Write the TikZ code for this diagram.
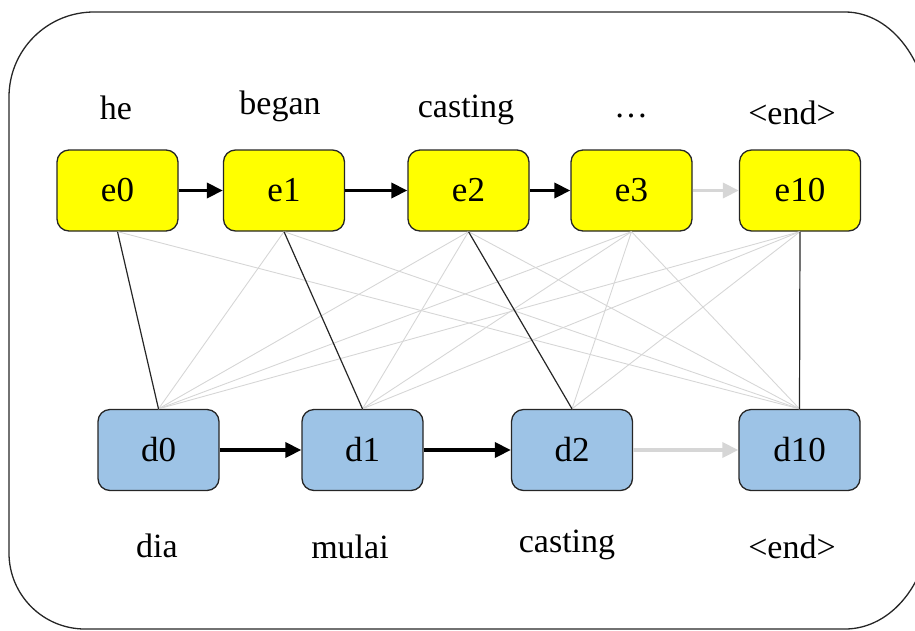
\documentclass[tikz,border=0pt]{standalone}
\usepackage{fontspec}
\setmainfont{Liberation Serif}
\usetikzlibrary{arrows.meta}
\definecolor{encfill}{RGB}{255,255,0}
\definecolor{decfill}{RGB}{157,195,230}
\definecolor{softgrey}{RGB}{214,214,214}
\tikzset{
  wordbox/.style={draw=black!85, line width=1.3pt, rounded corners=12pt,
    minimum width=121pt, minimum height=81pt, inner sep=0pt,
    font=\fontsize{35}{40}\selectfont},
  encbox/.style={wordbox, fill=encfill},
  decbox/.style={wordbox, fill=decfill},
  word/.style={font=\fontsize{34}{40}\selectfont, inner sep=0pt},
  seqarrow/.style={draw=black, line width=3.6pt,
    -{Triangle[length=16pt,width=15pt]}},
  seqarrowsoft/.style={seqarrow, draw=softgrey, fill=softgrey},
  linkhard/.style={line width=1.2pt, draw=black!85},
  linksoft/.style={line width=0.9pt, draw=softgrey},
}
\begin{document}
\begin{tikzpicture}[x=1pt,y=-1pt]
  \useasboundingbox (0,0) rectangle (915,630);
  % outer frame with rounded corners, running past the right edge
  \begin{scope}
    \clip (0,0) rectangle (915,630);
    \draw[line width=1.3pt, black!85]
      (94,12) -- (845,12)
      .. controls (892,12) and (930,63.5) .. (930,127)
      -- (930,522)
      .. controls (930,581) and (892,629) .. (845,629)
      -- (85,629)
      .. controls (43,629) and (9,595) .. (9,553)
      -- (9,97)
      .. controls (9,50) and (47,12) .. (94,12) -- cycle;
  \end{scope}

  % encoder row
  \node[encbox] (e0)  at (117.5,190.5) {e0};
  \node[encbox] (e1)  at (284,190.5)   {e1};
  \node[encbox] (e2)  at (468.5,190.5) {e2};
  \node[encbox] (e3)  at (631.5,190.5) {e3};
  \node[encbox] (e10) at (800,190.5)   {e10};

  % decoder row
  \node[decbox] (d0)  at (158.5,450) {d0};
  \node[decbox] (d1)  at (362.5,450) {d1};
  \node[decbox] (d2)  at (572,450)   {d2};
  \node[decbox] (d10) at (799.5,450) {d10};

  % source words
  \node[word] (w0) at (116,108) {he};
  \node[word] (w1) at (280,106) {began};
  \node[word] (w2) at (466,110) {casting};
  \node[word] (w3) at (631,116) {\ldots};
  \node[word] (w4) at (792,113) {<end>};

  % target words
  \node[word] (t0) at (157,546) {dia};
  \node[word] (t1) at (350,547) {mulai};
  \node[word] (t2) at (567,545) {casting};
  \node[word] (t3) at (792,547) {<end>};

  % soft alignment links
  \foreach \e/\d in {e1/d0,e2/d0,e3/d0,e10/d0,
                     e2/d1,e3/d1,e10/d1,
                     e3/d2,e10/d2,
                     e0/d10,e1/d10,e2/d10,e3/d10}
    \draw[linksoft] (\e.south) -- (\d.north);

  % hard alignment links
  \foreach \e/\d in {e0/d0,e1/d1,e2/d2,e10/d10}
    \draw[linkhard] (\e.south) -- (\d.north);

  % sequence arrows
  \draw[seqarrow] (e0) -- (e1);
  \draw[seqarrow] (e1) -- (e2);
  \draw[seqarrow] (e2) -- (e3);
  \draw[seqarrowsoft] (e3) -- (e10);
  \draw[seqarrow] (d0) -- (d1);
  \draw[seqarrow] (d1) -- (d2);
  \draw[seqarrowsoft] (d2) -- (d10);
\end{tikzpicture}
\end{document}
